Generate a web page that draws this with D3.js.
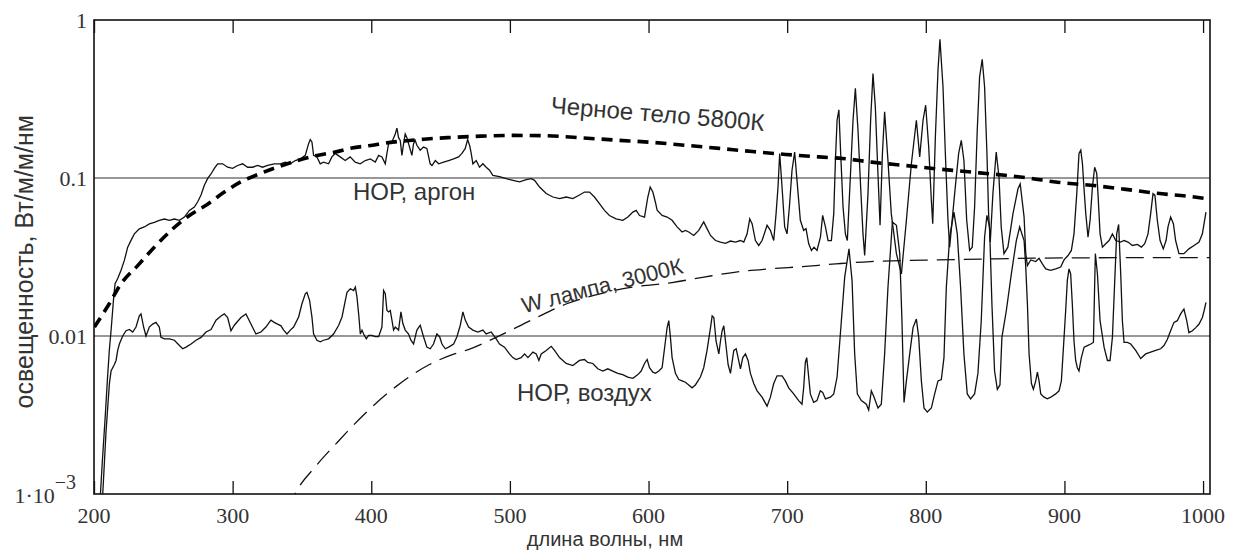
<!DOCTYPE html>
<html>
<head>
<meta charset="utf-8">
<script src="https://cdn.jsdelivr.net/npm/d3@7"></script>
<style>
  html, body { margin: 0; padding: 0; background: #fff; overflow: hidden; }
  svg { display: block; }
</style>
</head>
<body>
<div id="chart"></div>
<script>
// --- Данные (длина волны, нм ; освещенность, Вт/м/м/нм) ---
const xTicks = [200, 300, 400, 500, 600, 700, 800, 900, 1000];
const yTicks = [1, 0.1, 0.01];
const yBottom = 0.001;
const gridValues = [0.1, 0.01];

// Черное тело 5800К
const blackBody = [
  [200.3, 0.0114], [211, 0.016], [219.5, 0.0214], [231.5, 0.0279], [243.5, 0.0365],
  [255.6, 0.0466], [268.8, 0.0579], [280.8, 0.0672], [294, 0.0815], [306, 0.0946],
  [319, 0.106], [332, 0.117], [347, 0.129], [361, 0.139], [374, 0.146], [386, 0.155],
  [398, 0.160], [414, 0.168], [438, 0.176], [455, 0.180], [479, 0.184], [500, 0.186],
  [527, 0.185], [550, 0.180], [575, 0.174], [603, 0.168], [627, 0.161], [651, 0.154],
  [675, 0.147], [699, 0.141], [723, 0.136], [740, 0.133], [761, 0.126], [785, 0.120],
  [809, 0.114], [833, 0.109], [857, 0.104], [874, 0.100], [895, 0.094], [919, 0.090],
  [943, 0.085], [967, 0.080], [991, 0.0763], [1005, 0.0735]
];

// W лампа, 3000К
const wLamp = [
  [340, 0.0008], [345, 0.001], [360, 0.0015], [375, 0.0021], [395, 0.0032], [418, 0.0048],
  [442, 0.0066], [460, 0.0077], [470, 0.0082], [490, 0.0098], [517, 0.0128], [541, 0.016],
  [565, 0.0185], [589, 0.0204], [617, 0.0218], [640, 0.0236], [663, 0.0254], [687, 0.0266],
  [711, 0.0275], [735, 0.0286], [760, 0.0296], [800, 0.0302], [850, 0.0308], [900, 0.0312],
  [950, 0.0313], [1005, 0.0313]
];

// НОР, аргон
const argon = [
  [204, 0.0008], [206, 0.0016], [208, 0.003], [209.5, 0.005], [211, 0.008], [212.3, 0.0108],
  [214.2, 0.0176], [215.2, 0.0214], [217.1, 0.0231], [219.5, 0.0261], [221.9, 0.0301],
  [224.3, 0.0365], [226.7, 0.0403], [229.1, 0.0443], [232.7, 0.0477], [236.3, 0.049],
  [239.9, 0.0512], [243.5, 0.0524], [247.1, 0.054], [250.8, 0.055], [254.4, 0.054],
  [258, 0.055], [261.6, 0.054], [265.2, 0.0566], [268.8, 0.0624], [272.4, 0.0655],
  [274.8, 0.0707], [277.2, 0.078], [279.6, 0.09], [282, 0.0995], [284.4, 0.106],
  [286.8, 0.115], [289.2, 0.123], [292.8, 0.123], [296.4, 0.117], [300, 0.115],
  [303.6, 0.12], [307.2, 0.123], [310.8, 0.117], [314.4, 0.117], [318, 0.12],
  [321.6, 0.117], [325.2, 0.12], [330, 0.123], [334.4, 0.123], [338, 0.126],
  [341.6, 0.123], [345.2, 0.129], [348.8, 0.132], [352.4, 0.139], [354.8, 0.165],
  [356, 0.175], [357.2, 0.169], [358.4, 0.139], [360.8, 0.136], [363.2, 0.123],
  [365.6, 0.126], [369.2, 0.123], [371.6, 0.136], [374, 0.143], [377.6, 0.136],
  [381.2, 0.129], [384.8, 0.136], [388.4, 0.126], [392, 0.123], [395.7, 0.129],
  [399.3, 0.132], [402.9, 0.126], [405.3, 0.139], [407.7, 0.136], [410.1, 0.123],
  [411.3, 0.143], [412.5, 0.165], [414.9, 0.169], [417.3, 0.19], [418.5, 0.207],
  [419.7, 0.18], [420.9, 0.173], [422.1, 0.139], [423.3, 0.165], [424.5, 0.19],
  [425.7, 0.18], [426.9, 0.165], [429.3, 0.139], [430.5, 0.165], [431.7, 0.173],
  [432.9, 0.161], [435.3, 0.15], [437.7, 0.157], [440.1, 0.154], [442.5, 0.123],
  [443.8, 0.12], [446.2, 0.129], [448.6, 0.123], [452.2, 0.126], [455.8, 0.129],
  [459.4, 0.132], [463, 0.136], [465.4, 0.143], [467.8, 0.154], [469.5, 0.175],
  [471, 0.16], [472.1, 0.143], [473.3, 0.123], [475.7, 0.129], [478.1, 0.117],
  [480.5, 0.123], [482.9, 0.117], [485.3, 0.112], [487.7, 0.104], [492.5, 0.102],
  [497.3, 0.099], [502.2, 0.0967], [507, 0.0946], [511.8, 0.0975], [515.4, 0.099],
  [517.8, 0.0967], [521.4, 0.0876], [526.2, 0.0798], [531, 0.0758], [535.8, 0.074],
  [540.6, 0.0758], [545.4, 0.074], [550.2, 0.078], [553.8, 0.0815], [557.4, 0.0815],
  [561, 0.0758], [564.6, 0.0688], [568.2, 0.0624], [571.8, 0.0579], [576.6, 0.0552],
  [581.5, 0.054], [585.1, 0.0566], [588.7, 0.0608], [591.1, 0.0624], [593.5, 0.0579],
  [597.1, 0.0566], [599.5, 0.0758], [601.2, 0.0876], [603.1, 0.0815], [605, 0.07],
  [606.2, 0.0625], [609.8, 0.058], [613.4, 0.0566], [617, 0.054], [620.6, 0.049],
  [624.2, 0.0455], [626.6, 0.0466], [629, 0.0455], [632.6, 0.0433], [636.2, 0.0466],
  [639.8, 0.0527], [642.2, 0.0478], [644.7, 0.0433], [648.3, 0.0402], [651.9, 0.0393],
  [655.5, 0.0386], [659.1, 0.0399], [662.7, 0.0393], [666.3, 0.0402], [668.7, 0.0393],
  [671.1, 0.0443], [673, 0.0552], [674.7, 0.0514], [677.1, 0.0402], [679.5, 0.0374],
  [681.9, 0.0402], [685.5, 0.0502], [687.9, 0.0466], [690.3, 0.0402], [692, 0.0595],
  [693.4, 0.0877], [694.6, 0.143], [696.3, 0.0877], [698.2, 0.049], [699.9, 0.0443],
  [701.6, 0.0655], [703.5, 0.112], [705.4, 0.146], [707.1, 0.0966], [709.5, 0.054],
  [711.9, 0.0466], [713.6, 0.0478], [715.5, 0.0385], [717.5, 0.0348], [719.4, 0.0365],
  [721.5, 0.0348], [724, 0.0422], [725.6, 0.058], [727.6, 0.049], [729.5, 0.0402],
  [731.9, 0.0402], [733.6, 0.0595], [734.8, 0.129], [736, 0.232], [737.3, 0.27],
  [738.6, 0.143], [740.3, 0.0655], [742, 0.0443], [743.4, 0.0402], [745.8, 0.112],
  [747.5, 0.232], [749.2, 0.369], [751.1, 0.2], [753, 0.0877], [754.7, 0.0443],
  [755.9, 0.0323], [758.3, 0.0796], [760.2, 0.232], [761.9, 0.459], [763.6, 0.282],
  [765.1, 0.129], [767, 0.0502], [768.7, 0.143], [770.3, 0.262], [772.7, 0.129],
  [775.1, 0.0595], [778.8, 0.0332], [782.4, 0.0247], [786, 0.054], [789.6, 0.123],
  [793.2, 0.232], [795.6, 0.136], [798, 0.232], [799.9, 0.289], [802.1, 0.157],
  [804, 0.072], [805, 0.0514], [806.9, 0.182], [808.8, 0.482], [810.2, 0.754],
  [812.4, 0.378], [814.1, 0.143], [816, 0.054], [817.2, 0.0365], [820.8, 0.0796],
  [823.7, 0.143], [825.6, 0.173], [827.5, 0.129], [829.5, 0.054], [831.6, 0.0348],
  [833.5, 0.0365], [835.2, 0.0655], [837.1, 0.2], [838.8, 0.437], [840.7, 0.563],
  [842.4, 0.378], [844.1, 0.143], [845.3, 0.0595], [846.5, 0.0393], [848.4, 0.0796],
  [850.8, 0.146], [852.8, 0.101], [854.4, 0.049], [856.4, 0.0332], [859.2, 0.0365],
  [862.9, 0.0595], [866.5, 0.0855], [868.1, 0.0918], [870.9, 0.0566], [872.1, 0.0332],
  [873.3, 0.0279], [875.7, 0.0303], [879.3, 0.0296], [881.7, 0.031], [884.1, 0.0286],
  [886.5, 0.0266], [890.1, 0.026], [893.7, 0.0266], [897.3, 0.0273], [899.7, 0.0303],
  [902.6, 0.0323], [905, 0.0348], [906.9, 0.0443], [908.9, 0.0796], [910.5, 0.143],
  [911.8, 0.15], [913, 0.123], [914.2, 0.0837], [915.4, 0.0595], [917, 0.0422],
  [918.5, 0.054], [920.2, 0.0877], [921.8, 0.117], [923.3, 0.107], [924.2, 0.0796],
  [925.7, 0.0443], [927.4, 0.0365], [929.8, 0.0384], [932.2, 0.0402], [934.6, 0.0443],
  [937, 0.0402], [940.6, 0.0393], [943, 0.0402], [945.9, 0.0393], [949, 0.0374],
  [952.6, 0.038], [955.5, 0.0365], [957.9, 0.0384], [960.3, 0.0443], [962.2, 0.0595],
  [963.9, 0.0796], [965.3, 0.0776], [967, 0.054], [969, 0.0402], [971.3, 0.0356],
  [973.3, 0.0402], [974.7, 0.049], [976.6, 0.0566], [978.6, 0.0514], [980.2, 0.0402],
  [982.6, 0.0332], [986.2, 0.0332], [989.8, 0.0356], [993.5, 0.0374], [997.1, 0.0393],
  [999.5, 0.0443], [1001.1, 0.054], [1002.1, 0.0609]
];

// НОР, воздух
const air = [
  [205.5, 0.0008], [206.3, 0.001], [208.7, 0.0025], [211.1, 0.005], [212.3, 0.006],
  [214.7, 0.0066], [215.9, 0.007], [217.1, 0.0081], [218.3, 0.0089], [220.7, 0.01],
  [223.1, 0.0108], [225.5, 0.011], [227.9, 0.0106], [230.3, 0.0114], [232.7, 0.0134],
  [233.9, 0.0138], [235.8, 0.0114], [237.5, 0.01], [239.9, 0.0114], [242.3, 0.0119],
  [244.7, 0.0122], [247.1, 0.0114], [248.3, 0.0098], [250.8, 0.0096], [254.4, 0.0096],
  [258, 0.0094], [261.6, 0.0087], [264, 0.0083], [266.4, 0.0085], [270, 0.0089],
  [273.6, 0.0094], [277.2, 0.0098], [280.8, 0.0106], [284.4, 0.011], [288, 0.0126],
  [291.6, 0.0134], [294, 0.0138], [296.4, 0.0131], [298.8, 0.0108], [301.2, 0.0117],
  [306, 0.0131], [309.6, 0.0138], [313.2, 0.0119], [316.8, 0.0103], [320.4, 0.0106],
  [324, 0.0114], [327.6, 0.0126], [330, 0.0122], [332.4, 0.0119], [334.9, 0.0116],
  [336.8, 0.0109], [339.2, 0.0103], [341.6, 0.0109], [344, 0.0114], [347.6, 0.0132],
  [350, 0.016], [352.4, 0.0185], [353.6, 0.0189], [355.5, 0.0168], [357.2, 0.0132],
  [358.4, 0.0103], [360.8, 0.0094], [363.2, 0.0092], [365.6, 0.0094], [369.2, 0.0096],
  [372.8, 0.0103], [376.5, 0.0117], [378.9, 0.0132], [381.3, 0.0168], [382.5, 0.0189],
  [384.9, 0.0199], [387.3, 0.0194], [388.5, 0.0204], [389.7, 0.0176], [391.1, 0.0132],
  [392.1, 0.0103], [393.3, 0.0109], [394.5, 0.0103], [396.4, 0.0096], [398.1, 0.0101],
  [400.5, 0.0101], [402.9, 0.0099], [405.3, 0.0099], [407.7, 0.0114], [408.9, 0.0194],
  [410.1, 0.0185], [411.3, 0.0145], [412.5, 0.0142], [413.7, 0.0145], [414.9, 0.0126],
  [416.1, 0.0109], [417.3, 0.0114], [419.7, 0.0109], [421.4, 0.0142], [422.8, 0.012],
  [424.5, 0.0109], [426.9, 0.0103], [428.6, 0.0094], [430.5, 0.0089], [432.9, 0.0109],
  [435.3, 0.0117], [437.7, 0.0099], [440.1, 0.0085], [442.5, 0.0083], [444.9, 0.0089],
  [447.3, 0.0103], [449.3, 0.0099], [451, 0.0089], [453.4, 0.0083], [455.8, 0.0085],
  [459.4, 0.0089], [461.8, 0.0099], [464.2, 0.0117], [466.1, 0.0142], [467.8, 0.0126],
  [470.2, 0.0114], [473.3, 0.0109], [476.9, 0.0106], [480.5, 0.0109], [482.9, 0.0103],
  [486.5, 0.0106], [490.1, 0.0096], [492.5, 0.0089], [496.1, 0.0085], [499.7, 0.0077],
  [502.1, 0.0073], [504.5, 0.0071], [508.1, 0.0073], [510.6, 0.0077], [513, 0.0073],
  [516.6, 0.0079], [519, 0.0077], [520.9, 0.007], [522.6, 0.0077], [526.2, 0.0081],
  [529.8, 0.0086], [532.2, 0.0081], [535.8, 0.0073], [540.6, 0.0067], [545.4, 0.0065],
  [550.2, 0.007], [553.8, 0.0071], [556.2, 0.0068], [559.8, 0.0067], [563.4, 0.0062],
  [567, 0.006], [570.6, 0.0062], [574.2, 0.006], [577.8, 0.0058], [581.4, 0.0057],
  [585, 0.0055], [588.7, 0.0054], [592.3, 0.0057], [594.7, 0.006], [597.1, 0.0067],
  [599, 0.0071], [600.7, 0.0063], [603.1, 0.0059], [605, 0.0058], [607.4, 0.006],
  [609.8, 0.0063], [612.2, 0.0093], [613.4, 0.0113], [614.6, 0.0125], [615.8, 0.0098],
  [617, 0.0073], [619.4, 0.0058], [621.8, 0.0053], [624.2, 0.0052], [626.6, 0.0051],
  [629, 0.0049], [631.4, 0.0047], [633.8, 0.0049], [637.4, 0.0055], [639.8, 0.0063],
  [642.2, 0.0081], [644.7, 0.0113], [645.9, 0.0134], [647.1, 0.0131], [648.7, 0.0093],
  [650.7, 0.0077], [651.9, 0.0093], [653.1, 0.0108], [654.3, 0.0116], [655.5, 0.0093],
  [657.4, 0.0066], [659.1, 0.0058], [661.5, 0.0081], [663.2, 0.0083], [664.6, 0.0073],
  [666.3, 0.0062], [668, 0.0073], [669.9, 0.0077], [671.8, 0.007], [673.5, 0.0058],
  [675.9, 0.005], [678.3, 0.0045], [681.9, 0.0041], [685.5, 0.0036], [687.9, 0.0041],
  [690.3, 0.005], [692.7, 0.0056], [696.3, 0.0056], [698.7, 0.0052], [701.1, 0.0047],
  [704.7, 0.0043], [708.3, 0.0039], [710.7, 0.0037], [711.9, 0.0047], [713.1, 0.0068],
  [714.1, 0.0073], [715.1, 0.006], [716.7, 0.0043], [719.1, 0.0038], [721.5, 0.0039],
  [723.9, 0.0045], [725.6, 0.0044], [727.6, 0.004], [731.2, 0.0041], [733.6, 0.0043],
  [736, 0.0055], [739.1, 0.0125], [741.5, 0.0236], [744.6, 0.0356], [746.8, 0.0225],
  [748.7, 0.0077], [750.6, 0.0043], [753.5, 0.0039], [757.1, 0.0037], [758.8, 0.0034],
  [760.7, 0.0045], [762.7, 0.0041], [765.5, 0.0035], [767.9, 0.0037], [770.3, 0.0077],
  [772.7, 0.0203], [775.9, 0.0526], [778.8, 0.0502], [781.2, 0.0332], [782.8, 0.0125],
  [784.3, 0.0038], [786, 0.0052], [788.4, 0.0077], [790.8, 0.0113], [793.2, 0.0128],
  [794.9, 0.0098], [796.8, 0.0052], [798.7, 0.0035], [801.1, 0.0033], [804, 0.0035],
  [806.4, 0.0043], [808.8, 0.0052], [811.2, 0.0053], [813.1, 0.0073], [814.8, 0.0203],
  [817.2, 0.0422], [820.3, 0.0609], [822.7, 0.0443], [825.1, 0.0203], [827.5, 0.0077],
  [829.9, 0.0043], [832.3, 0.004], [835.2, 0.0043], [837.6, 0.0058], [840, 0.0125],
  [842.4, 0.0422], [844.1, 0.058], [846, 0.049], [847.7, 0.0159], [849.6, 0.006],
  [851.6, 0.0046], [853.5, 0.0049], [854.9, 0.0098], [858.1, 0.0145], [861.7, 0.0247],
  [865.3, 0.0402], [867.7, 0.049], [870.9, 0.0402], [872.1, 0.0273], [873.3, 0.0159],
  [874.5, 0.0077], [876.2, 0.005], [877.6, 0.0046], [879.3, 0.0052], [880.5, 0.0059],
  [881.7, 0.0052], [882.9, 0.0043], [885.3, 0.0041], [887.7, 0.004], [890.1, 0.0041],
  [893.7, 0.0043], [896.1, 0.0045], [897.8, 0.0052], [899.3, 0.0085], [900.9, 0.0145],
  [902.1, 0.0225], [903.3, 0.0266], [904.5, 0.0247], [905.7, 0.0159], [906.9, 0.0093],
  [908.1, 0.007], [909.3, 0.0063], [910.5, 0.006], [912.2, 0.0073], [914.2, 0.0085],
  [916.6, 0.0087], [919, 0.0089], [920.9, 0.0091], [922.3, 0.0332], [923.8, 0.0247],
  [925.7, 0.0125], [928.6, 0.0085], [931, 0.007], [932.9, 0.007], [934.6, 0.0098],
  [936.3, 0.0225], [937.7, 0.0443], [939.1, 0.0508], [940.6, 0.0247], [941.8, 0.0125],
  [943, 0.0091], [945.4, 0.0091], [947.8, 0.0089], [951.4, 0.0081], [955, 0.0072],
  [958.6, 0.0077], [962.2, 0.0079], [965.8, 0.0081], [969.4, 0.0083], [971.8, 0.0087],
  [974.2, 0.0095], [976.6, 0.0108], [979, 0.0122], [981.4, 0.0125], [983.8, 0.0138],
  [986.2, 0.0148], [988.2, 0.0125], [989.8, 0.0105], [992.3, 0.0108], [994.7, 0.0113],
  [997.1, 0.0119], [999.5, 0.0131], [1000.7, 0.0144], [1002.1, 0.0163]
];

// --- Размеры ---
const width = 1235, height = 550;
const margin = { top: 20, right: 25, bottom: 56, left: 94 };
const innerWidth = width - margin.left - margin.right;
const innerHeight = height - margin.top - margin.bottom;

// шкалы в координатах всего рисунка
const x = d3.scaleLinear().domain([200, 1005]).range([margin.left, margin.left + innerWidth]);
const y = d3.scaleLog().domain([yBottom, 1]).range([margin.top + innerHeight, margin.top]);

const svg = d3.select('#chart')
  .append('svg')
  .attr('width', width)
  .attr('height', height)
  .style('font-family', '"Liberation Sans", Arial, sans-serif');

svg.append('defs').append('clipPath').attr('id', 'plot-clip')
  .append('rect')
  .attr('x', margin.left).attr('y', margin.top)
  .attr('width', innerWidth).attr('height', innerHeight);

// --- Сетка ---
svg.append('g')
  .selectAll('line')
  .data(gridValues)
  .join('line')
  .attr('x1', margin.left)
  .attr('x2', margin.left + innerWidth)
  .attr('y1', d => y(d))
  .attr('y2', d => y(d))
  .attr('stroke', '#333')
  .attr('stroke-width', 1.2);

// --- Засечки (внутрь) ---
const xBottom = svg.append('g')
  .attr('transform', `translate(0,${margin.top + innerHeight})`)
  .call(d3.axisBottom(x).tickValues(xTicks).tickSize(-13).tickFormat(''));
xBottom.select('.domain').remove();
xBottom.selectAll('line').attr('stroke', '#111').attr('stroke-width', 1.3);

const xTop = svg.append('g')
  .attr('transform', `translate(0,${margin.top})`)
  .call(d3.axisTop(x).tickValues(xTicks).tickSize(-13).tickFormat(''));
xTop.select('.domain').remove();
xTop.selectAll('line').attr('stroke', '#111').attr('stroke-width', 1.3);

// --- Подписи делений ---
const serif = '"Liberation Serif", "Times New Roman", serif';

xTicks.forEach(d => {
  svg.append('text')
    .attr('x', x(d))
    .attr('y', margin.top + innerHeight + 29)
    .attr('text-anchor', 'middle')
    .attr('font-family', serif)
    .attr('font-size', 22)
    .attr('fill', '#333')
    .append('tspan')
    .text(d);
});

yTicks.forEach(d => {
  svg.append('text')
    .attr('x', margin.left - 7)
    .attr('y', y(d) + 8)
    .attr('text-anchor', 'end')
    .attr('font-family', serif)
    .attr('font-size', 22)
    .attr('fill', '#333')
    .append('tspan')
    .text(String(d));
});

// 1·10^-3
const expLabel = svg.append('text')
  .attr('x', margin.left - 18)
  .attr('y', y(yBottom) + 9)
  .attr('text-anchor', 'end')
  .attr('font-family', serif)
  .attr('font-size', 22)
  .attr('fill', '#333');
expLabel.append('tspan').text('1\u00B710');
expLabel.append('tspan').attr('dy', -14).attr('font-size', 20).text('\u22123');

// рамка
svg.append('rect')
  .attr('x', margin.left)
  .attr('y', margin.top)
  .attr('width', innerWidth)
  .attr('height', innerHeight)
  .attr('fill', 'none')
  .attr('stroke', '#111')
  .attr('stroke-width', 1.6);

// --- Кривые ---
const curves = svg.append('g').attr('clip-path', 'url(#plot-clip)');

const rough = d3.line().x(d => x(d[0])).y(d => y(d[1]));
const smooth = d3.line().x(d => x(d[0])).y(d => y(d[1])).curve(d3.curveMonotoneX);

curves.append('path')
  .datum(argon)
  .attr('fill', 'none')
  .attr('stroke', '#111')
  .attr('stroke-width', 1.3)
  .attr('d', rough);

curves.append('path')
  .datum(air)
  .attr('fill', 'none')
  .attr('stroke', '#111')
  .attr('stroke-width', 1.3)
  .attr('d', rough);

curves.append('path')
  .datum(wLamp)
  .attr('fill', 'none')
  .attr('stroke', '#111')
  .attr('stroke-width', 1.3)
  .attr('stroke-dasharray', '18,9')
  .attr('d', smooth);

curves.append('path')
  .datum(blackBody)
  .attr('fill', 'none')
  .attr('stroke', '#000')
  .attr('stroke-width', 3.6)
  .attr('stroke-dasharray', '11,7')
  .attr('d', smooth);

// --- Подписи кривых ---
function label(text, px, py, angle, anchor, size) {
  svg.append('text')
    .attr('transform', `translate(${px},${py}) rotate(${angle})`)
    .attr('text-anchor', anchor)
    .attr('font-size', size)
    .attr('fill', '#333')
    .text(text);
}
label('Черное тело 5800К', 657, 122, 4.7, 'middle', 24);
label('НОР, аргон', 353, 200, 0, 'start', 24);
label('W лампа, 3000К', 604, 293, -14.2, 'middle', 22);
label('НОР, воздух', 517, 401, 0, 'start', 24);

// оси: названия
svg.append('text')
  .attr('transform', 'translate(33,115) rotate(-90)')
  .attr('text-anchor', 'end')
  .attr('font-size', 25)
  .attr('fill', '#333')
  .text('освещенность, Вт/м/м/нм');

svg.append('text')
  .attr('x', 605)
  .attr('y', 546)
  .attr('text-anchor', 'middle')
  .attr('font-size', 20)
  .attr('fill', '#333')
  .text('длина волны, нм');
</script>
</body>
</html>
